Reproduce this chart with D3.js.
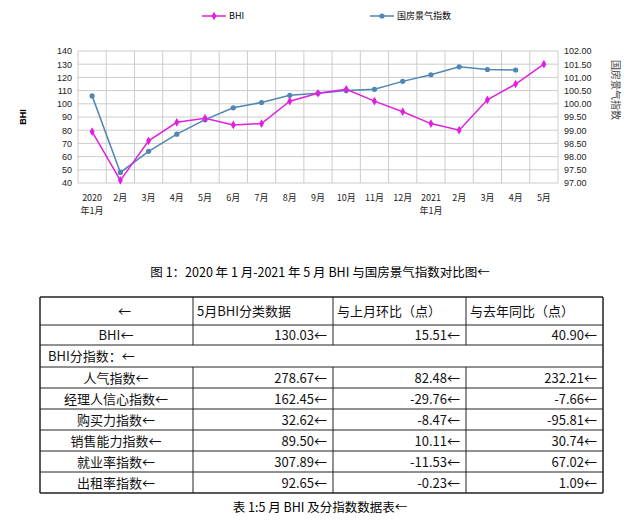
<!DOCTYPE html>
<html><head><meta charset="utf-8">
<script src="https://cdn.jsdelivr.net/npm/d3@7"></script>
<style>body{margin:0;background:#fff;font-family:"Noto Sans CJK SC","DejaVu Serif",serif;}</style>
</head><body><svg id="c" width="640" height="532"></svg>
<script>
let months = ['2020\n年1月','2月','3月','4月','5月','6月','7月','8月','9月','10月','11月','12月','2021\n年1月','2月','3月','4月','5月'];
let bhi = [79, 42, 72, 86, 89, 84, 85, 102, 108, 111, 102, 94, 85, 80, 103, 115, 130.03];
let gf = [100.30, 97.40, 98.20, 98.85, 99.40, 99.85, 100.05, 100.32, 100.40, 100.50, 100.55, 100.85, 101.10, 101.40, 101.30, 101.28];
let leftTicks = d3.range(40, 141, 10);
let rightTicks = d3.range(97, 102.01, 0.5);
let tableHead = ['', '5月BHI分类数据', '与上月环比（点）', '与去年同比（点）'];
let tableRows = [
  ['BHI', '130.03', '15.51', '40.90'],
  ['BHI分指数：'],
  ['人气指数', '278.67', '82.48', '232.21'],
  ['经理人信心指数', '162.45', '-29.76', '-7.66'],
  ['购买力指数', '32.62', '-8.47', '-95.81'],
  ['销售能力指数', '89.50', '10.11', '30.74'],
  ['就业率指数', '307.89', '-11.53', '67.02'],
  ['出租率指数', '92.65', '-0.23', '1.09']
];

let svg = d3.select('#c');
let x = d3.scaleBand().domain(d3.range(months.length)).range([78, 558]);
let yl = d3.scaleLinear().domain([40, 140]).range([183, 51]);
let yr = d3.scaleLinear().domain([97, 102]).range([183, 51]);

// grid
svg.append('g').selectAll('line').data(leftTicks).enter().append('line')
  .attr('x1', 78).attr('x2', 558).attr('y1', d => yl(d)).attr('y2', d => yl(d))
  .attr('stroke', '#ccc');
svg.append('g').selectAll('line').data(d3.range(months.length + 1)).enter().append('line')
  .attr('x1', d => 78 + d * x.step()).attr('x2', d => 78 + d * x.step())
  .attr('y1', 51).attr('y2', 183).attr('stroke', '#ccc');

let lAxis = svg.append('g').attr('transform', 'translate(78,0)')
  .call(d3.axisLeft(yl).tickValues(leftTicks).tickSize(0).tickPadding(6));
let rAxis = svg.append('g').attr('transform', 'translate(558,0)')
  .call(d3.axisRight(yr).tickValues(rightTicks).tickFormat(d3.format('.2f')).tickSize(0).tickPadding(6));
[lAxis, rAxis].forEach(a => {
  a.select('.domain').remove();
  a.selectAll('text').style('font-family', 'Liberation Sans, sans-serif').style('font-size', '9px').attr('fill', '#222');
});

let xl = svg.append('g').selectAll('text').data(months).enter().append('text')
  .attr('text-anchor', 'middle').attr('font-size', 9).attr('fill', '#222')
  .attr('x', (d, i) => x(i) + x.bandwidth() / 2).attr('y', 201);
xl.selectAll('tspan').data(d => d.split('\n')).enter().append('tspan')
  .attr('x', function () { return this.parentNode.getAttribute('x'); })
  .attr('dy', (d, i) => i ? 13 : 0).text(d => d);

let cx = (d, i) => x(i) + x.bandwidth() / 2;
svg.append('path').datum(gf).attr('fill', 'none').attr('stroke', '#4f86b4').attr('stroke-width', 1.5)
  .attr('d', d3.line().x(cx).y(d => yr(d)));
svg.append('g').selectAll('circle').data(gf).enter().append('circle')
  .attr('cx', cx).attr('cy', d => yr(d)).attr('r', 2.6).attr('fill', '#4f86b4');
svg.append('path').datum(bhi).attr('fill', 'none').attr('stroke', '#e020e0').attr('stroke-width', 1.5)
  .attr('d', d3.line().x(cx).y(d => yl(d)));
svg.append('g').selectAll('path.m').data(bhi).enter().append('path')
  .attr('d', d3.symbol(d3.symbolDiamond, 22)())
  .attr('transform', (d, i) => `translate(${cx(d, i)},${yl(d)})`).attr('fill', '#e020e0');

// legend
svg.append('line').attr('x1', 202).attr('x2', 226).attr('y1', 16).attr('y2', 16).attr('stroke', '#e020e0').attr('stroke-width', 1.5);
svg.append('path').attr('d', d3.symbol(d3.symbolDiamond, 22)()).attr('transform', 'translate(214,16)').attr('fill', '#e020e0');
svg.append('text').attr('x', 229).attr('y', 19).attr('font-size', 9).text('BHI');
svg.append('line').attr('x1', 370).attr('x2', 394).attr('y1', 16).attr('y2', 16).attr('stroke', '#4f86b4').attr('stroke-width', 1.5);
svg.append('circle').attr('cx', 382).attr('cy', 16).attr('r', 2.6).attr('fill', '#4f86b4');
svg.append('text').attr('x', 397).attr('y', 19).attr('font-size', 9).text('国房景气指数');

svg.append('text').attr('transform', 'translate(26,117) rotate(-90)').attr('text-anchor', 'middle')
  .attr('font-size', 9).attr('font-weight', 'bold').style('font-family', 'Liberation Sans, sans-serif').text('BHI');
svg.append('text').attr('transform', 'translate(612,90) rotate(90)').attr('text-anchor', 'middle')
  .attr('font-size', 10).attr('fill', '#444').text('国房景气指数');

svg.append('text').attr('x', 320).attr('y', 277).attr('text-anchor', 'middle').attr('font-size', 12.5)
  .text('图 1：2020 年 1 月-2021 年 5 月 BHI 与国房景气指数对比图←');

// table
let colX = [40, 193, 333, 466, 603];
let rowY = [297, 325, 345, 367, 388, 409, 430, 451, 472, 493];
let tg = svg.append('g');
tg.selectAll('line.h').data(rowY).enter().append('line')
  .attr('x1', 40).attr('x2', 603).attr('y1', d => d).attr('y2', d => d).attr('stroke', '#222').attr('stroke-width', (d, i) => i === 0 || i === rowY.length - 1 ? 1.5 : 1);
let allRows = [tableHead].concat(tableRows);
allRows.forEach((r, ri) => {
  let y0 = rowY[ri], y1 = rowY[ri + 1];
  let spans = r.length === 1 ? [0, 4] : [0, 1, 2, 3, 4];
  spans.forEach(c => tg.append('line').attr('x1', colX[c]).attr('x2', colX[c]).attr('y1', y0).attr('y2', y1)
    .attr('stroke', '#222').attr('stroke-width', c === 0 || c === 4 ? 1.5 : 1));
  r.forEach((t, ci) => {
    let txt = tg.append('text').attr('y', (y0 + y1) / 2 + 5).attr('font-size', 13).attr('fill', '#111');
    if (ri === 0) txt.attr('x', ci === 0 ? 118 : colX[ci] + 4).text(ci === 0 ? '←' : t);
    else if (ci === 0) txt.attr('x', r.length === 1 ? 48 : 116).attr('text-anchor', r.length === 1 ? 'start' : 'middle').text(t + '←');
    else txt.attr('x', colX[ci + 1] - 6).attr('text-anchor', 'end').text(t + '←');
  });
});

svg.append('text').attr('x', 320).attr('y', 512).attr('text-anchor', 'middle').attr('font-size', 12.5)
  .text('表 1:5 月 BHI 及分指数数据表←');
</script></body></html>
